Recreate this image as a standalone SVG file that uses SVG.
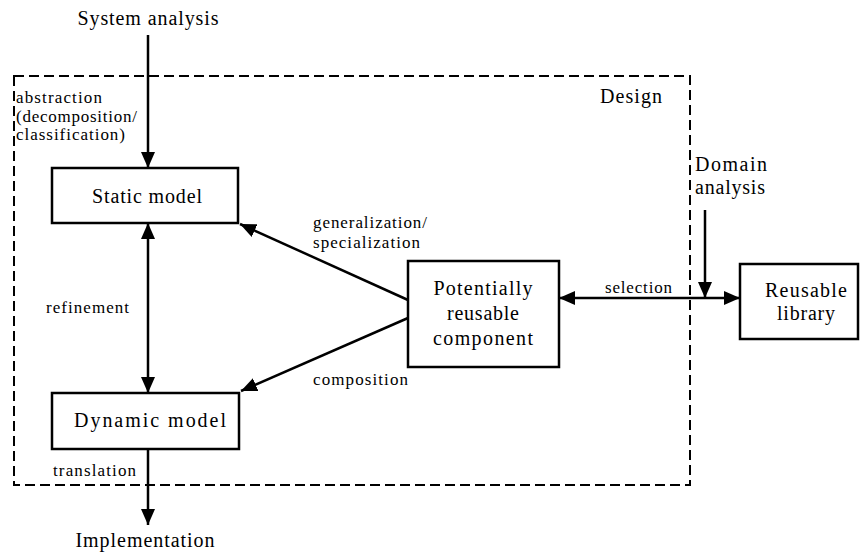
<svg xmlns="http://www.w3.org/2000/svg" width="860" height="556" viewBox="0 0 860 556">
<defs>
<marker id="ah" markerUnits="userSpaceOnUse" markerWidth="16" markerHeight="14" refX="16" refY="7" orient="auto-start-reverse" viewBox="0 0 16 14">
<path d="M0,0 L16,7 L0,14 z" fill="#000"/>
</marker>
<style>
.box{fill:#fff;stroke:#000;stroke-width:2.5}
.frame{fill:none;stroke:#000;stroke-width:2;stroke-dasharray:10,5}
.ln{fill:none;stroke:#000;stroke-width:2.5}
.big{font-size:20px}
.sm{font-size:17px}
.c{text-anchor:middle}
</style>
</defs>
<rect width="860" height="556" fill="#fff"/>
<g font-family="Liberation Serif, Tinos, DejaVu Serif, Times New Roman, serif" fill="#000">
<g id="design-frame">
<rect class="frame" x="14" y="76" width="676" height="409"/>
<text class="big" x="600" y="103" textLength="62">Design</text>
</g>
<g id="connectors">
<line class="ln" x1="148" y1="35" x2="148" y2="168" marker-end="url(#ah)"/>
<line class="ln" x1="148" y1="223" x2="148" y2="393" marker-start="url(#ah)" marker-end="url(#ah)"/>
<line class="ln" x1="408" y1="300" x2="240" y2="224" marker-end="url(#ah)"/>
<line class="ln" x1="408" y1="318" x2="241" y2="391" marker-end="url(#ah)"/>
<line class="ln" x1="559" y1="298" x2="740" y2="298" marker-start="url(#ah)" marker-end="url(#ah)"/>
<line class="ln" x1="705" y1="210" x2="705" y2="298" marker-end="url(#ah)"/>
<line class="ln" x1="148" y1="449" x2="148" y2="525" marker-end="url(#ah)"/>
<text class="sm" x="16" y="103" textLength="86">abstraction</text>
<text class="sm" x="16" y="122" textLength="121">(decomposition/</text>
<text class="sm" x="16" y="140" textLength="109">classification)</text>
<text class="sm" x="46" y="313" textLength="83">refinement</text>
<text class="sm" x="313" y="228" textLength="114">generalization/</text>
<text class="sm" x="313" y="248" textLength="107">specialization</text>
<text class="sm" x="313" y="385" textLength="95">composition</text>
<text class="sm" x="605" y="293" textLength="67">selection</text>
<text class="sm" x="53" y="476" textLength="83">translation</text>
</g>
<g id="system-analysis">
<text class="big c" x="148" y="25" textLength="141">System analysis</text>
</g>
<g id="static-model">
<rect class="box" x="52" y="168" width="186" height="55"/>
<text class="big c" x="147" y="203" textLength="110">Static model</text>
</g>
<g id="dynamic-model">
<rect class="box" x="52" y="393" width="187" height="56"/>
<text class="big c" x="150" y="427" textLength="152">Dynamic model</text>
</g>
<g id="implementation">
<text class="big c" x="145" y="547" textLength="139">Implementation</text>
</g>
<g id="potentially-reusable-component">
<rect class="box" x="408" y="261" width="151" height="106"/>
<text class="big c" x="483" y="295" textLength="99">Potentially</text>
<text class="big c" x="483" y="320" textLength="72">reusable</text>
<text class="big c" x="483" y="345" textLength="100">component</text>
</g>
<g id="domain-analysis">
<text class="big" x="695" y="171" textLength="72">Domain</text>
<text class="big" x="695" y="194" textLength="70">analysis</text>
</g>
<g id="reusable-library">
<rect class="box" x="740" y="264" width="118" height="75"/>
<text class="big c" x="806" y="297" textLength="82">Reusable</text>
<text class="big c" x="806" y="320" textLength="58">library</text>
</g>
</g>
</svg>
